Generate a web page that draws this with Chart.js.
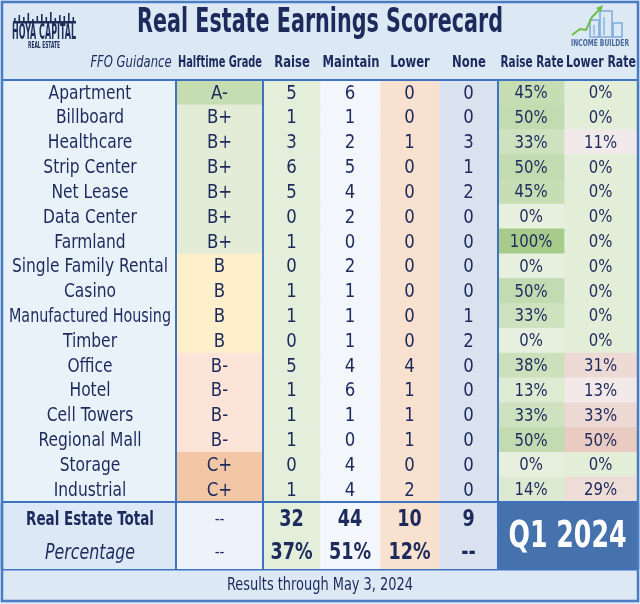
<!DOCTYPE html>
<html>
<head>
<meta charset="utf-8">
<script src="https://cdn.jsdelivr.net/npm/chart.js@4"></script>
<style>
  html, body { margin: 0; padding: 0; background: #dce8f4; }
  #wrap { position: relative; width: 640px; height: 604px; }
  canvas { position: absolute; left: 0; }
  #main { top: 0; }
  #totals { top: 503px; }
</style>
</head>
<body>
<div id="wrap">
  <canvas id="main" width="640" height="604"></canvas>
  <canvas id="totals" width="640" height="66"></canvas>
</div>
<script>
// ---- data ----
const sectors = ['Apartment', 'Billboard', 'Healthcare', 'Strip Center', 'Net Lease', 'Data Center', 'Farmland',
  'Single Family Rental', 'Casino', 'Manufactured Housing', 'Timber', 'Office', 'Hotel', 'Cell Towers',
  'Regional Mall', 'Storage', 'Industrial'];
const grades = ['A-', 'B+', 'B+', 'B+', 'B+', 'B+', 'B+', 'B', 'B', 'B', 'B', 'B-', 'B-', 'B-', 'B-', 'C+', 'C+'];
const raiseCounts = [5, 1, 3, 6, 5, 0, 1, 0, 1, 1, 0, 5, 1, 1, 1, 0, 1];
const maintainCounts = [6, 1, 2, 5, 4, 2, 0, 2, 1, 1, 1, 4, 6, 1, 0, 4, 4];
const lowerCounts = [0, 0, 1, 0, 0, 0, 0, 0, 0, 0, 0, 4, 1, 1, 1, 0, 2];
const noneCounts = [0, 0, 3, 1, 2, 0, 0, 0, 0, 1, 2, 0, 0, 0, 0, 0, 0];
const raiseRates = [45, 50, 33, 50, 45, 0, 100, 0, 50, 33, 0, 38, 13, 33, 50, 0, 14];
const lowerRates = [0, 0, 11, 0, 0, 0, 0, 0, 0, 0, 0, 31, 13, 33, 50, 0, 29];

const columnHeaders = ['FFO Guidance', 'Halftime Grade', 'Raise', 'Maintain', 'Lower', 'None', 'Raise Rate', 'Lower Rate'];
const totalLabels = ['Real Estate Total', 'Percentage'];
const totalGrades = ['--', '--'];
const totalCounts = ['32', '44', '10', '9'];
const totalPcts = ['37%', '51%', '12%', '--'];
const quarterLabel = 'Q1 2024';
const titleText = 'Real Estate Earnings Scorecard';
const footerText = 'Results through May 3, 2024';

// ---- layout / style ----
const colEdges = [4, 176, 263, 320, 380, 439, 498, 564, 637];
const FONT = '"Liberation Sans Narrow", "DejaVu Sans Condensed", "Liberation Sans", sans-serif';
const INK = '#1d2a5c';
const LINE = '#3f73bf';
const HEAD_BG = '#dce8f4';
const gradeColors = { 'A-': '#c6ddb1', 'B+': '#e2ecd6', 'B': '#fdf0cb', 'B-': '#fce5d8', 'C+': '#f2c7a6' };
const colBg = ['#eaf2f9', null, '#e3eedb', '#f3f6fb', '#f9e1d0', '#dae2ef'];

const hex = (h) => [1, 3, 5].map((i) => parseInt(h.slice(i, i + 2), 16));
const mix = (a, b, t) => {
  const ca = hex(a), cb = hex(b);
  return `rgb(${ca.map((v, i) => Math.round(v + (cb[i] - v) * t)).join(',')})`;
};
const raiseRateColor = (v) => mix('#e7f0df', '#a6cb8a', Math.min(1, v / 90));
const lowerRateColor = (v) => (v === 0 ? '#e3eed9' : mix('#f5f3f6', '#e9cbc1', v / 50));

const span = (i, n) => Array.from({ length: n }, () => [colEdges[i], colEdges[i + 1]]);

const cellColor = (col) => (ctx) => {
  const i = ctx.dataIndex;
  if (col === 1) return gradeColors[grades[i]];
  if (col === 6) return raiseRateColor(raiseRates[i]);
  if (col === 7) return lowerRateColor(lowerRates[i]);
  return colBg[col];
};

const vLine = (ctx, x, y0, y1) => {
  ctx.beginPath();
  ctx.moveTo(x, y0);
  ctx.lineTo(x, y1);
  ctx.stroke();
};
const hLine = (ctx, y, x0, x1) => {
  ctx.beginPath();
  ctx.moveTo(x0, y);
  ctx.lineTo(x1, y);
  ctx.stroke();
};
// squeeze < 1 narrows the glyphs to mimic the condensed face of the original
const text = (ctx, str, x, y, font, color = INK, maxW, squeeze = 1) => {
  ctx.font = font;
  ctx.fillStyle = color;
  ctx.textAlign = 'center';
  ctx.textBaseline = 'middle';
  let w = ctx.measureText(str).width * squeeze;
  if (maxW) w = Math.min(w, maxW);
  ctx.fillText(str, x, y, w);
};

const drawLogos = (ctx) => {
  // hoya capital skyline + words
  ctx.fillStyle = '#1f2d5a';
  const towers = [4, 7, 5, 9, 3, 6, 8, 5, 10, 4, 7, 6, 9, 5];
  towers.forEach((h, k) => ctx.fillRect(14 + k * 4.5, 22 - h, 1.6, h));
  ctx.fillRect(13, 21, 63, 2.5);
  text(ctx, 'HOYA CAPITAL', 44, 34, `bold 21px ${FONT}`, '#1f2d5a', 64);
  text(ctx, 'REAL ESTATE', 44, 46, `bold 8px ${FONT}`, '#1f2d5a', 32);

  // income builder
  ctx.strokeStyle = '#7eaadb';
  ctx.lineWidth = 1.5;
  ctx.strokeRect(590, 20, 9, 17);
  ctx.strokeRect(600, 11, 12, 26);
  ctx.strokeRect(613, 23, 9, 14);
  ctx.fillStyle = '#9cc3ea';
  ctx.fillRect(603, 17, 2, 18);
  ctx.fillRect(593, 25, 2, 10);
  ctx.strokeStyle = '#6fbf3f';
  ctx.lineWidth = 2;
  ctx.beginPath();
  ctx.moveTo(572, 35);
  ctx.lineTo(580, 29);
  ctx.lineTo(586, 30);
  ctx.lineTo(592, 17);
  ctx.lineTo(600, 9);
  ctx.stroke();
  ctx.fillStyle = '#6fbf3f';
  ctx.beginPath();
  ctx.moveTo(603, 5);
  ctx.lineTo(596, 8);
  ctx.lineTo(601, 12);
  ctx.fill();
  text(ctx, 'INCOME BUILDER', 600, 44, `bold 9px ${FONT}`, '#46679c', 58);
};

const headerPlugin = {
  id: 'header',
  beforeDraw(chart) {
    const { ctx, scales: { x } } = chart;
    ctx.save();
    ctx.fillStyle = HEAD_BG;
    ctx.fillRect(0, 0, 640, 604);
    text(ctx, titleText, 320, 23, `bold 33px ${FONT}`, '#1d2a5c', 366);
    drawLogos(ctx);
    const headX = [131, 220, 292, 351, 410, 469, 532, 601];
    columnHeaders.forEach((h, i) => {
      const font = i === 0 ? `italic 15px ${FONT}` : `bold 15px ${FONT}`;
      text(ctx, h, x.getPixelForValue(headX[i]), 63, font, INK, i === 0 ? 84 : colEdges[i + 1] - colEdges[i] - 3, 0.86);
    });
    text(ctx, footerText, 320, 586, `17px ${FONT}`, INK, 186, 0.88);
    ctx.restore();
  },
  afterDatasetsDraw(chart) {
    const { ctx, scales: { x, y } } = chart;
    ctx.save();
    const cols = [
      (i) => sectors[i], (i) => grades[i], (i) => String(raiseCounts[i]), (i) => String(maintainCounts[i]),
      (i) => String(lowerCounts[i]), (i) => String(noneCounts[i]), (i) => `${raiseRates[i]}%`, (i) => `${lowerRates[i]}%`
    ];
    sectors.forEach((_, i) => {
      const cy = y.getPixelForValue(i) + 1;
      cols.forEach((get, c) => {
        const cx = x.getPixelForValue((colEdges[c] + colEdges[c + 1]) / 2);
        const font = c >= 6 ? `18px ${FONT}` : `20px ${FONT}`;
        text(ctx, get(i), cx, cy, font, INK, colEdges[c + 1] - colEdges[c] - 10, c === 0 ? 0.86 : 0.92);
      });
    });
    // borders
    ctx.strokeStyle = LINE;
    ctx.lineWidth = 2;
    const top = chart.chartArea.top, bottom = chart.chartArea.bottom;
    hLine(ctx, top, 3, 637);
    hLine(ctx, bottom, 3, 637);
    hLine(ctx, 569.5, 3, 637);
    [176, 263, 498].forEach((e) => vLine(ctx, x.getPixelForValue(e), top, bottom));
    ctx.strokeStyle = '#4a7cc4';
    ctx.lineWidth = 2.5;
    ctx.strokeRect(2, 2, 636, 599);
    ctx.restore();
  }
};

new Chart(document.getElementById('main'), {
  type: 'bar',
  data: {
    labels: sectors,
    datasets: columnHeaders.map((h, c) => ({
      label: h,
      data: span(c, sectors.length),
      backgroundColor: cellColor(c),
      borderWidth: 0,
      grouped: false,
      barPercentage: 1,
      categoryPercentage: 1
    }))
  },
  options: {
    indexAxis: 'y',
    responsive: false,
    animation: false,
    layout: { padding: { top: 80, bottom: 102, left: 0, right: 0 } },
    plugins: { legend: { display: false }, tooltip: { enabled: false } },
    scales: {
      x: { type: 'linear', min: 0, max: 640, display: false },
      y: { display: false }
    }
  },
  plugins: [headerPlugin]
});

// ---- totals block ----
const totalsPlugin = {
  id: 'totalsText',
  afterDatasetsDraw(chart) {
    const { ctx, scales: { x, y } } = chart;
    ctx.save();
    totalLabels.forEach((lab, r) => {
      const cy = y.getPixelForValue(r) + 1;
      const mid = (c) => x.getPixelForValue((colEdges[c] + colEdges[c + 1]) / 2);
      const labFont = r === 0 ? `bold 19px ${FONT}` : `italic 22px ${FONT}`;
      text(ctx, lab, mid(0), cy, labFont, INK, r === 0 ? 128 : 90, 0.8);
      text(ctx, totalGrades[r], mid(1), cy, `15px ${FONT}`);
      const vals = r === 0 ? totalCounts : totalPcts;
      vals.forEach((v, k) => text(ctx, v, mid(k + 2), cy, `bold 23px ${FONT}`, INK, 52, 0.85));
    });
    const qx = x.getPixelForValue((colEdges[6] + colEdges[8]) / 2);
    text(ctx, quarterLabel, qx, chart.chartArea.top + chart.chartArea.height / 2 + 1, `bold 38px ${FONT}`, '#ffffff', 118);
    ctx.strokeStyle = LINE;
    ctx.lineWidth = 2;
    [176, 263, 498].forEach((e) => vLine(ctx, x.getPixelForValue(e), 0, 66));
    ctx.strokeStyle = '#4a7cc4';
    ctx.lineWidth = 2.5;
    vLine(ctx, 2, 0, 66);
    vLine(ctx, 638, 0, 66);
    ctx.restore();
  }
};

const totalBg = ['#dce8f5', '#eef3fb', '#e3eedb', '#f3f6fb', '#f9e1d0', '#dae2ef'];
new Chart(document.getElementById('totals'), {
  type: 'bar',
  data: {
    labels: totalLabels,
    datasets: totalBg.map((bg, c) => ({
      label: columnHeaders[c],
      data: span(c, totalLabels.length),
      backgroundColor: bg,
      borderWidth: 0,
      grouped: false,
      barPercentage: 1,
      categoryPercentage: 1
    })).concat([{
      label: quarterLabel,
      data: totalLabels.map(() => [colEdges[6], colEdges[8]]),
      backgroundColor: '#4571ad',
      borderWidth: 0,
      grouped: false,
      barPercentage: 1,
      categoryPercentage: 1
    }])
  },
  options: {
    indexAxis: 'y',
    responsive: false,
    animation: false,
    layout: { padding: 0 },
    plugins: { legend: { display: false }, tooltip: { enabled: false } },
    scales: {
      x: { type: 'linear', min: 0, max: 640, display: false },
      y: { display: false }
    }
  },
  plugins: [totalsPlugin]
});
</script>
</body>
</html>
